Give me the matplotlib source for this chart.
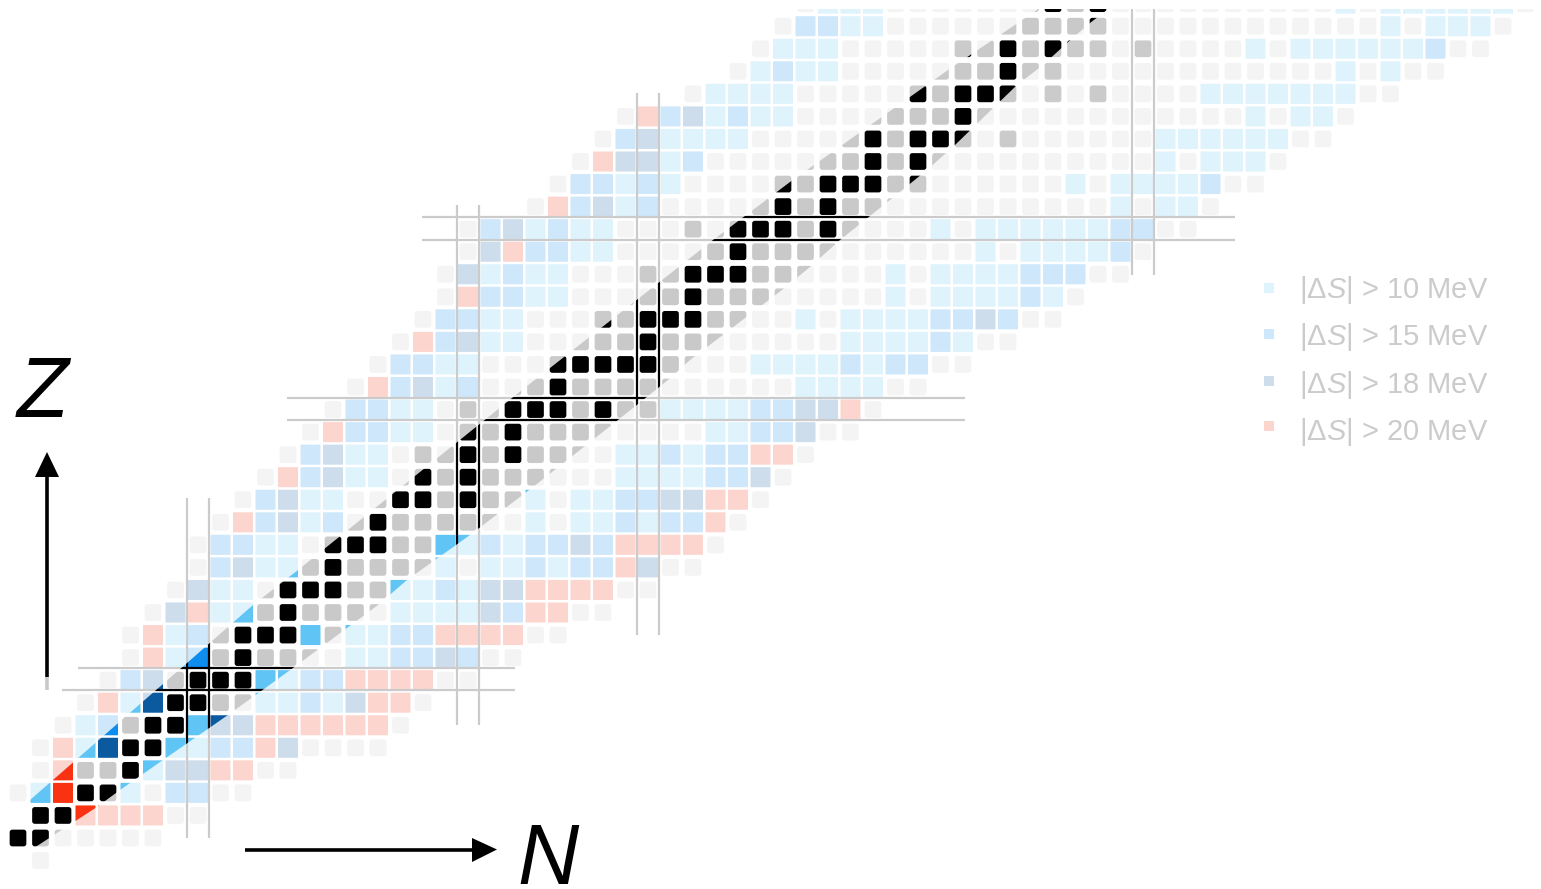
import matplotlib
matplotlib.use("Agg")
import matplotlib.pyplot as plt
from matplotlib.patches import FancyBboxPatch, PathPatch, Polygon, Rectangle
from matplotlib.path import Path

# one string per proton row: g stable-region grey, k stable, a/b/n/r size of |dS|
row_numbers = list(range(-1, 38))
row_starts = [1, 0, 1, 0, 1, 1, 2, 3, 4, 5, 5, 6, 7, 8, 8, 9, 10, 11, 12, 13,
              14, 15, 16, 17, 18, 19, 19, 20, 20, 23, 24, 25, 26, 27, 30, 32, 33, 34, 35]
row_cells = [
    "g",
    "kkggggg",
    "kkrrrrgg",
    "garkkagbbgg",
    "grggkannrrgg",
    "grankkaabbrngggg",
    "gabgkkannrrrrrrg",
    "grankkggaabanrrg",
    "gbngkkkaabbrrrrgg",
    "grabgkggggaabbnbgg",
    "grabgkkkagaabbrrrrgg",
    "gnraagkggggaaaanbrrgg",
    "gnaagkkkggaabannrrrrgg",
    "gbnaagkggggagaababbrngg",
    "gbbaagkkkggaababbnbrrrrg",
    "grbnabgkggggggagaababbrg",
    "gbnaaggkkgkggagaabbnnrrg",
    "grbnaagkgkggggggaaaabbng",
    "gbnaagkgkgkggggaababbrrg",
    "grbbaagkgkggggggggaabbngg",
    "gbbaagkgkkkgkgkaaaabbnnrg",
    "grbnabgggkggggggggggaaaagg",
    "gbbaagggkkkkkggggaaaababbgg",
    "grbnaagggggkggggggggaaaabagg",
    "gbbaagggkgkkkggggagaaaabbnbgg",
    "grbbaagggggkggggggggagaaaabag",
    "gnabaagggkgkkkggggggagaaaabbbgg",
    "gnrbbaagggggkggggggggggagaaaabg",
    "gbnabaagggkgkkkgkggggagaaaaaabbgg",
    "grbnabgggggkgk" + "gggggggggggg" + "agaag",
    "gbbabaggggkgkkkgkggggggagaaaabgg",
    "grnnabgggggggkgk" + "gggggggggg" + "agaaag",
    "gbnaaaagggggkgkkkgkggggggaaaaaagg",
    "grbnabaagggggggk" + "gggggggggggg" + "agaag",
    "gaaaagggggkgkkkgkgkggggaaaaaaagg",
    "gabaagggggggkgk" + "gggggggggggg" + "agagg",
    "gaaagggggkgkgkkkgkggggagaaaaaabgg",
    "gbbaa" + "ggggggggg" + "k" + "gggggggggggg" + "agaaag",
    "gaaa" + "ggggggg" + "kgk" + "gggggggggg" + "agaaaaaag",
]
cell_colors = {"g": "#c9c9c9", "k": "#000000", "a": "#60c4f5",
               "b": "#0e8def", "n": "#0b5aa0", "r": "#f93312"}

legend_classes = ["a", "b", "n", "r"]
legend_labels = ["10", "15", "18", "20"]
legend_square_y = [288, 334, 381, 426]
legend_text_y = [290, 337, 385, 432]

# magic number lines, in picture pixels
vertical_lines = [(187, 498, 838), (209, 498, 838), (457, 205, 725), (479, 205, 725),
                  (637, 93, 635), (659, 93, 635), (1132, 9, 275), (1154, 9, 275)]
horizontal_lines = [(668, 78, 515), (690, 62, 515), (398, 287, 965), (420, 287, 965),
                    (217, 422, 1235), (240, 422, 1235)]

# the clear band along the stable nuclei
band_upper = [(-5, 830), (30, 800), (187, 663), (253, 605), (298, 570), (522, 390),
              (713, 240), (790, 182), (948, 70), (1037, 10), (1040, 5)]
band_lower = [(1112, 5), (1107, 10), (1090, 23), (1067, 43), (1043, 65), (1017, 85), (955, 145),
              (927, 170), (890, 200), (840, 240), (810, 267), (782, 290), (753, 312),
              (690, 360), (668, 380), (618, 420), (580, 450), (533, 487), (470, 535),
              (407, 580), (378, 605), (347, 628), (293, 668), (228, 715), (163, 760),
              (120, 790), (97, 807), (37, 846), (-5, 868)]

PITCH_X = 22.5
PITCH_Y = 22.55
W, H = 1541, 889


def px_x(x):
    return (x - 18) / PITCH_X


def px_y(y):
    return (838 - y) / PITCH_Y


plt.rcParams["font.family"] = "Liberation Sans"
plt.rcParams["mathtext.fontset"] = "custom"
plt.rcParams["mathtext.it"] = "Liberation Sans:italic"
plt.rcParams["mathtext.rm"] = "Liberation Sans"

fig = plt.figure(figsize=(W / 100, H / 100), dpi=100)
ax = fig.add_axes([0, 0, 1, 1])
ax.set_xlim(px_x(0), px_x(W))
ax.set_ylim(px_y(H), px_y(0))
ax.axis("off")

for j, start, cells in zip(row_numbers, row_starts, row_cells):
    for k, c in enumerate(cells):
        i = start + k
        side = 16.7 / PITCH_X if c in "gk" else 20 / PITCH_X
        round_r = 2.6 / PITCH_X if c in "gk" else 0.6 / PITCH_X
        ax.add_patch(FancyBboxPatch(
            (i - side / 2, j - side / 2), side, side,
            boxstyle=f"round,pad=0,rounding_size={round_r}",
            facecolor=cell_colors[c], edgecolor="none", zorder=2))

for x, y0, y1 in vertical_lines:
    ax.plot([px_x(x), px_x(x)], [px_y(y0), px_y(y1)], color="black", lw=1.6, zorder=3,
            solid_capstyle="butt")
for y, x0, x1 in horizontal_lines:
    ax.plot([px_x(x0), px_x(x1)], [px_y(y), px_y(y)], color="black", lw=1.6, zorder=3,
            solid_capstyle="butt")

for c, lab, sq_y, txt_y in zip(legend_classes, legend_labels, legend_square_y, legend_text_y):
    ax.add_patch(Rectangle((px_x(1264), px_y(sq_y + 5)), 10 / PITCH_X, 10 / PITCH_Y,
                           facecolor=cell_colors[c], edgecolor="none", zorder=3))
    ax.text(px_x(1299), px_y(txt_y), "|$\\mathit{Δ}$$\\mathit{S}$| > " + lab + " MeV",
            fontsize=21, color="black", va="center", ha="left", zorder=3)

# white veil over everything except the band
outer = [(-10, -10), (W + 10, -10), (W + 10, H + 10), (-10, H + 10), (-10, -10)]
hole = (band_upper + band_lower + [band_upper[0]])[::-1]
verts = [(px_x(x), px_y(y)) for x, y in outer + hole]
codes = ([Path.MOVETO] + [Path.LINETO] * 3 + [Path.CLOSEPOLY]
         + [Path.MOVETO] + [Path.LINETO] * (len(hole) - 2) + [Path.CLOSEPOLY])
ax.add_patch(PathPatch(Path(verts, codes), facecolor="white", edgecolor="none",
                       alpha=0.8, zorder=5))
ax.add_patch(Rectangle((px_x(-10), px_y(9)), (W + 20) / PITCH_X, 30 / PITCH_Y,
                       facecolor="white", edgecolor="none", zorder=6))

# axis arrows
ax.plot([px_x(47), px_x(47)], [px_y(677), px_y(470)], color="black", lw=2.6, zorder=7,
        solid_capstyle="butt")
ax.plot([px_x(47), px_x(47)], [px_y(690), px_y(677)], color="#c9c9c9", lw=2.6, zorder=7,
        solid_capstyle="butt")
ax.add_patch(Polygon([(px_x(47), px_y(452)), (px_x(59), px_y(477)), (px_x(35), px_y(477))],
                     facecolor="black", edgecolor="none", zorder=7))
ax.plot([px_x(245), px_x(480)], [px_y(849.5), px_y(849.5)], color="black", lw=2.6, zorder=7,
        solid_capstyle="butt")
ax.add_patch(Polygon([(px_x(497), px_y(849.5)), (px_x(472), px_y(838)), (px_x(472), px_y(862))],
                     facecolor="black", edgecolor="none", zorder=7))

ax.text(px_x(43), px_y(417), "Z", fontsize=61, style="italic", color="black",
        ha="center", va="baseline", zorder=7)
ax.text(px_x(548), px_y(884), "N", fontsize=61, style="italic", color="black",
        ha="center", va="baseline", zorder=7)

fig.savefig("out.png", dpi=100)
